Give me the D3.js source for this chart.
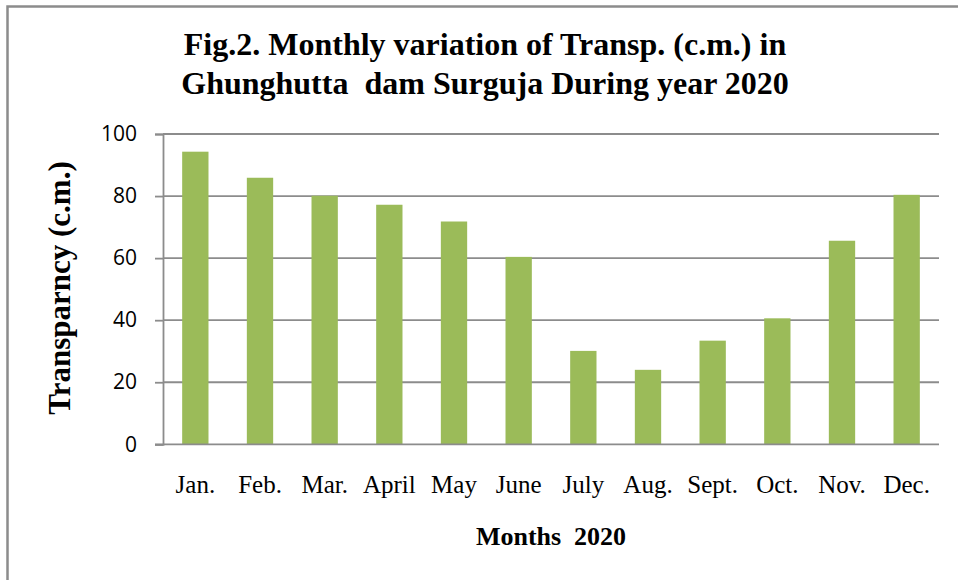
<!DOCTYPE html>
<html>
<head>
<meta charset="utf-8">
<script src="https://cdn.jsdelivr.net/npm/d3@7"></script>
<style>
  html, body { margin: 0; padding: 0; background: #fff; }
  svg { display: block; }
</style>
</head>
<body>
<svg id="chart" width="958" height="580"></svg>
<script>
const titleLines = ["Fig.2. Monthly variation of Transp. (c.m.) in", "Ghunghutta  dam Surguja During year 2020"];
const months = ["Jan.", "Feb.", "Mar.", "April", "May", "June", "July", "Aug.", "Sept.", "Oct.", "Nov.", "Dec."];
const transparency = [94.3, 85.9, 80.1, 77.2, 71.8, 60.4, 30.1, 24.0, 33.4, 40.6, 65.6, 80.4];
const yTicks = [0, 20, 40, 60, 80, 100];
const yLabel = "Transparncy (c.m.)";
const xLabel = "Months  2020";

const svg = d3.select("#chart");
const W = 958, H = 580;
const plot = { left: 163, right: 939, top: 134, bottom: 444.3 };

// outer frame
svg.append("rect")
  .attr("x", 7.5).attr("y", 6.5)
  .attr("width", W + 10).attr("height", H + 10)
  .attr("fill", "#fff")
  .attr("stroke", "#8c8c8c").attr("stroke-width", 2.5);

const x = d3.scaleBand().domain(months).range([plot.left, plot.right]).paddingInner(0.593).paddingOuter(0.2965);
const y = d3.scaleLinear().domain([0, 100]).range([plot.bottom, plot.top]);

// gridlines
svg.append("g").selectAll("line").data(yTicks.filter(d => d > 0)).join("line")
  .attr("x1", plot.left).attr("x2", plot.right)
  .attr("y1", d => y(d)).attr("y2", d => y(d))
  .attr("stroke", "#8c8c8c").attr("stroke-width", 1.8);

// bars
svg.append("g").selectAll("rect").data(months).join("rect")
  .attr("x", d => x(d))
  .attr("width", x.bandwidth())
  .attr("y", (d, i) => y(transparency[i]))
  .attr("height", (d, i) => y(0) - y(transparency[i]))
  .attr("fill", "#9bbb59");

// y axis
const yAxis = d3.axisLeft(y).tickValues(yTicks).tickSize(8).tickPadding(18).tickFormat(d3.format("d"));
const gy = svg.append("g").attr("transform", `translate(${plot.left},0)`).call(yAxis);
gy.select(".domain").attr("stroke", "#8c8c8c").attr("stroke-width", 1.8);
gy.selectAll(".tick line").attr("stroke", "#8c8c8c").attr("stroke-width", 1.8);
gy.selectAll(".tick text")
  .attr("font-family", "'Open Sans', sans-serif")
  .attr("font-size", 21).attr("fill", "#000");

// x axis baseline
const xAxis = d3.axisBottom(x).tickSize(0).tickPadding(34);
const gx = svg.append("g").attr("transform", `translate(0,${plot.bottom})`).call(xAxis);
gx.select(".domain").attr("stroke", "#8c8c8c").attr("stroke-width", 1.8)
  .attr("d", `M${plot.left - 8},0H${plot.right}`);
gx.selectAll(".tick text")
  .attr("font-family", "'Liberation Serif', 'Times New Roman', serif")
  .attr("font-size", 25).attr("fill", "#000")
  .attr("dy", null).attr("y", 48.7);

// title
svg.append("text")
  .attr("x", 485).attr("text-anchor", "middle")
  .attr("font-family", "'Liberation Serif', 'Times New Roman', serif")
  .attr("font-weight", "bold").attr("font-size", 32).attr("fill", "#000")
  .attr("xml:space", "preserve").style("white-space", "pre")
  .selectAll("tspan").data(titleLines).join("tspan")
  .attr("x", 485).attr("y", (d, i) => 55 + i * 39)
  .text(d => d);

// y label
svg.append("text")
  .attr("transform", "translate(70,288) rotate(-90)")
  .attr("text-anchor", "middle")
  .attr("font-family", "'Liberation Serif', 'Times New Roman', serif")
  .attr("font-weight", "bold").attr("font-size", 31).attr("fill", "#000")
  .text(yLabel);

// x label
svg.append("text")
  .attr("x", 551).attr("y", 545).attr("text-anchor", "middle")
  .attr("font-family", "'Liberation Serif', 'Times New Roman', serif")
  .attr("font-weight", "bold").attr("font-size", 26).attr("fill", "#000")
  .attr("xml:space", "preserve").style("white-space", "pre")
  .text(xLabel);
</script>
</body>
</html>
